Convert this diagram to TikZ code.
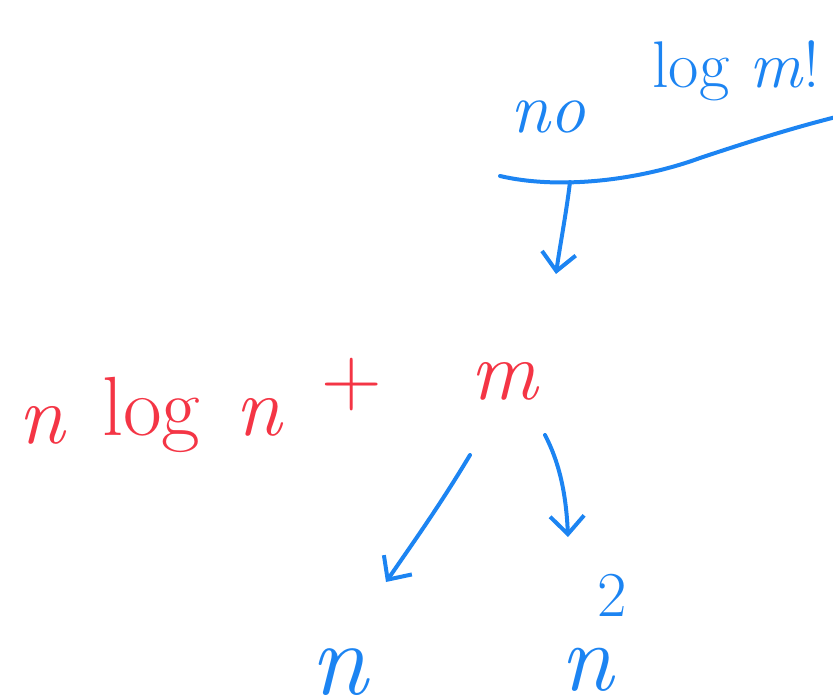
\documentclass[tikz,border=0pt]{standalone}
\usepackage{fontspec}
\usetikzlibrary{arrows.meta}
\definecolor{pen}{HTML}{1C84F2}
\definecolor{ink}{HTML}{F43545}
\tikzset{stroke/.style={pen,line width=4pt,line cap=round,line join=round},
 hand/.style={-{Straight Barb[length=18pt,width=34pt,line width=4pt]}},
 big/.style={font=\fontsize{#1}{#1}\selectfont,inner sep=0pt}}
\begin{document}
\begin{tikzpicture}[x=1pt,y=-1pt]
 \useasboundingbox (0,0) rectangle (833,700);
 \node[pen,big=72,anchor=base] (no) at (548,133) {\textit{no}};
 \node[pen,big=66,anchor=base west] (logm) at (652,88) {log \textit{m}!};
 \draw[stroke] (500,176) .. controls (560,190) and (640,180) .. (700,158) .. controls (760,138) and (800,126) .. (840,116);
 \coordinate (brace) at (570,182);
 \coordinate (tip) at (556,274);
 \draw[stroke,hand] (brace) .. controls (566,215) and (560,245) .. (tip);
 \node[ink,big=84,anchor=base west] (sum) at (18,444)
  {\textit{n}\hspace{36pt}\raisebox{8pt}{log}\hspace{35pt}\raisebox{8pt}{\textit{n}}\hspace{38pt}\raisebox{38pt}{+}\hspace{88pt}\raisebox{44pt}{\textit{m}}};
 \node[pen,big=104,anchor=base] (lo) at (340,694) {\textit{n}};
 \node[pen,big=96,anchor=base] (hi) at (588,690) {\textit{n}};
 \node[pen,big=64,anchor=base] (sq) at (612,616) {2};
 \coordinate (left) at (386,582);
 \coordinate (right) at (568,537);
 \draw[stroke,hand] (470,455) .. controls (440,505) and (415,540) .. (left);
 \draw[stroke,hand] (545,435) .. controls (558,460) and (566,490) .. (right);
\end{tikzpicture}
\end{document}
